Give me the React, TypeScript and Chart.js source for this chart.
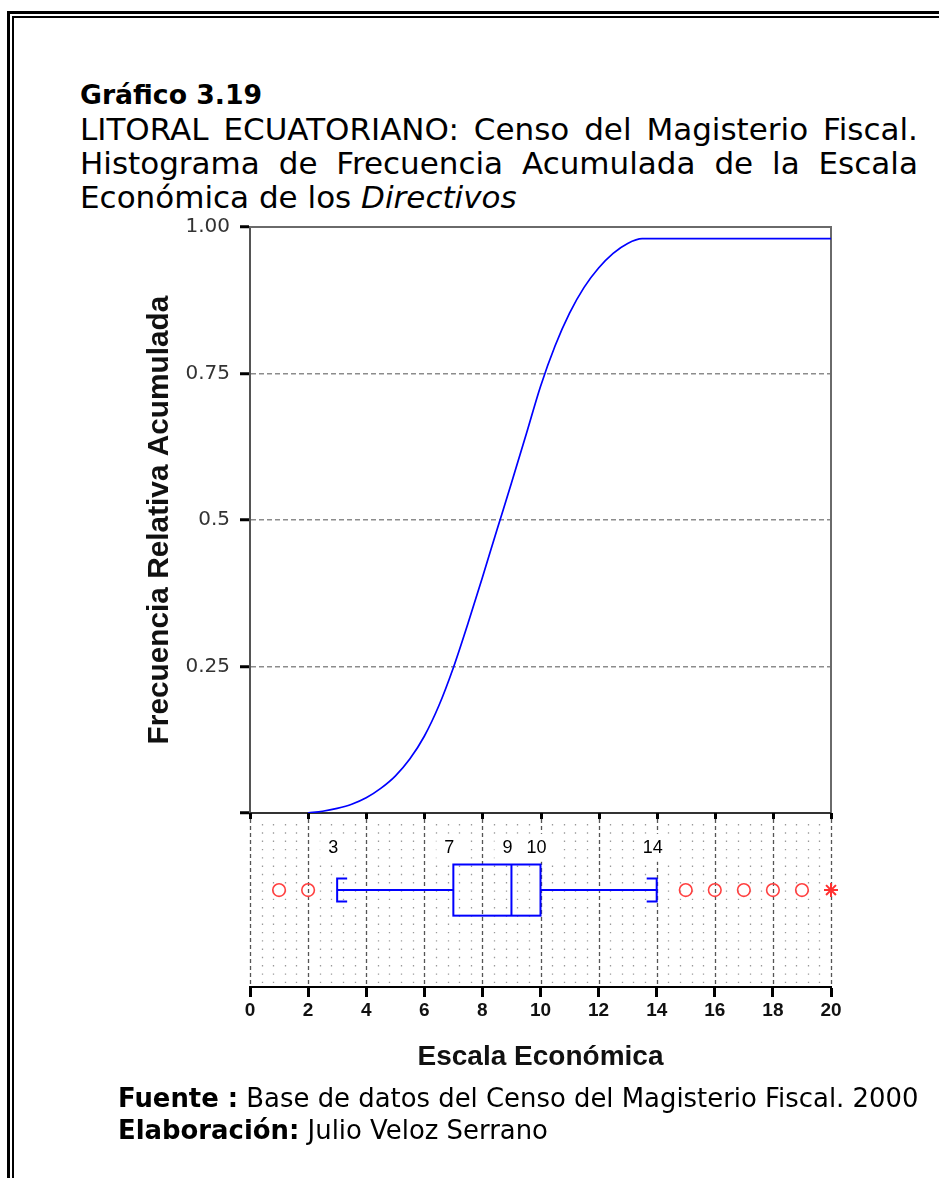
import React, { useEffect, useRef } from 'react';
import { Chart, registerables } from 'chart.js';

Chart.register(...registerables);

// ---------- data ----------
const cdfX = [2.0, 2.5, 3.0, 3.5, 4.0, 4.5, 5.0, 5.5, 6.0, 6.5, 7.0, 7.5, 8.0, 8.5, 9.0, 9.5, 10.0, 10.5, 11.0, 11.5, 12.0, 12.5, 13.0, 13.5, 20.0];
const cdfY = [0.0, 0.003, 0.008, 0.015, 0.026, 0.042, 0.063, 0.092, 0.131, 0.183, 0.248, 0.323, 0.402, 0.483, 0.563, 0.645, 0.728, 0.797, 0.853, 0.897, 0.93, 0.955, 0.972, 0.98, 0.98];

// whisker low, Q1, median, Q3, whisker high
const boxValues = [3, 7, 9, 10, 14];
const boxLabels = ['3', '7', '9', '10', '14'];
const outliers = [1, 2, 15, 16, 17, 18, 19];
const extremes = [20];

const xTicks = [0, 2, 4, 6, 8, 10, 12, 14, 16, 18, 20];
const yTicks = [0, 0.25, 0.5, 0.75, 1];
const yTickLabels = ['', '0.25', '0.5', '0.75', '1.00'];

// ---------- layout constants (box panel, in yb units 0..1) ----------
const BOX_Y = 0.557;
const BOX_HALF = 0.147;
const CAP_HALF = 0.066;
const CAP_STUB = 10;
const LABEL_Y = 0.8;
const MINOR_STEP = 0.4;

const panelPlugin = {
  id: 'panels',
  beforeDatasetsDraw(chart: any) {
    const { ctx, scales } = chart;
    const x = scales.x, y = scales.y, yb = scales.yb;
    const left = x.left, right = x.right;
    const top = y.top, mid = y.bottom, bottom = yb.bottom;
    ctx.save();
    // minor dotted verticals
    ctx.strokeStyle = '#9a9a9a';
    ctx.lineWidth = 1.3;
    ctx.setLineDash([1.4, 6.9]);
    const nMinor = Math.round((x.max - x.min) / MINOR_STEP);
    for (let i = 1; i < nMinor; i++) {
      const v = x.min + i * MINOR_STEP;
      if (Math.abs(v / 2 - Math.round(v / 2)) < 1e-6) continue;
      const px = Math.round(x.getPixelForValue(v)) + 0.5;
      ctx.beginPath();
      ctx.moveTo(px, mid + 11);
      ctx.lineTo(px, bottom - 2);
      ctx.stroke();
    }
    // major dashed verticals
    ctx.strokeStyle = '#555';
    ctx.lineWidth = 1.3;
    ctx.setLineDash([4, 3]);
    for (const v of xTicks) {
      const px = Math.round(x.getPixelForValue(v)) + 0.5;
      ctx.beginPath();
      ctx.moveTo(px, mid + 6);
      ctx.lineTo(px, bottom);
      ctx.stroke();
    }
    ctx.setLineDash([]);
    // top panel frame
    ctx.strokeStyle = '#6a6a6a';
    ctx.lineWidth = 2;
    ctx.beginPath();
    ctx.moveTo(left, top);
    ctx.lineTo(right, top);
    ctx.lineTo(right, mid);
    ctx.stroke();
    ctx.strokeStyle = '#333';
    ctx.beginPath();
    ctx.moveTo(left, mid);
    ctx.lineTo(right, mid);
    ctx.stroke();
    // downward ticks under top panel
    ctx.strokeStyle = '#000';
    ctx.lineWidth = 3;
    for (const v of xTicks) {
      const px = Math.round(x.getPixelForValue(v)) + 0.5;
      ctx.beginPath();
      ctx.moveTo(px, mid);
      ctx.lineTo(px, mid + 6);
      ctx.stroke();
    }
    // labels with white background
    ctx.font = '18px "Liberation Sans", Arial, sans-serif';
    ctx.textAlign = 'center';
    ctx.textBaseline = 'middle';
    const ly = yb.getPixelForValue(LABEL_Y);
    boxValues.forEach((v, i) => {
      const px = x.getPixelForValue(v) - 4;
      const w = ctx.measureText(boxLabels[i]).width + 16;
      ctx.fillStyle = '#fff';
      ctx.fillRect(px - w / 2, ly - 14, w, 28);
      ctx.fillStyle = '#000';
      ctx.fillText(boxLabels[i], px, ly);
    });
    ctx.restore();
  },
  afterDatasetsDraw(chart: any) {
    const { ctx, scales } = chart;
    const x = scales.x, yb = scales.yb;
    const [lo, q1, med, q3, hi] = boxValues.map((v) => x.getPixelForValue(v));
    const cy = yb.getPixelForValue(BOX_Y);
    const bt = yb.getPixelForValue(BOX_Y + BOX_HALF);
    const bb = yb.getPixelForValue(BOX_Y - BOX_HALF);
    const ct = yb.getPixelForValue(BOX_Y + CAP_HALF);
    const cb = yb.getPixelForValue(BOX_Y - CAP_HALF);
    ctx.save();
    ctx.strokeStyle = '#0000ff';
    ctx.lineWidth = 2;
    ctx.strokeRect(q1, bt, q3 - q1, bb - bt);
    ctx.beginPath();
    ctx.moveTo(med, bt);
    ctx.lineTo(med, bb);
    ctx.moveTo(lo, cy);
    ctx.lineTo(q1, cy);
    ctx.moveTo(q3, cy);
    ctx.lineTo(hi, cy);
    // left cap [
    ctx.moveTo(lo + CAP_STUB, ct);
    ctx.lineTo(lo, ct);
    ctx.lineTo(lo, cb);
    ctx.lineTo(lo + CAP_STUB, cb);
    // right cap ]
    ctx.moveTo(hi - CAP_STUB, ct);
    ctx.lineTo(hi, ct);
    ctx.lineTo(hi, cb);
    ctx.lineTo(hi - CAP_STUB, cb);
    ctx.stroke();
    ctx.restore();
  },
};

function ChartCanvas() {
  const ref = useRef<HTMLCanvasElement | null>(null);
  useEffect(() => {
    if (!ref.current) return;
    const chart = new Chart(ref.current, {
      type: 'line',
      data: {
        datasets: [
          {
            label: 'Frecuencia relativa acumulada',
            data: cdfX.map((v, i) => ({ x: v, y: cdfY[i] })),
            borderColor: '#0000ff',
            borderWidth: 1.7,
            pointRadius: 0,
            cubicInterpolationMode: 'monotone',
            fill: false,
            xAxisID: 'x',
            yAxisID: 'y',
          },
          {
            type: 'scatter',
            label: 'Atípicos',
            data: outliers.map((v) => ({ x: v, y: BOX_Y })),
            pointStyle: 'circle',
            pointRadius: 6.3,
            borderColor: '#ff4040',
            backgroundColor: 'rgba(0,0,0,0)',
            borderWidth: 1.6,
            clip: false,
            xAxisID: 'x',
            yAxisID: 'yb',
          },
          {
            type: 'scatter',
            label: 'Extremos',
            data: extremes.map((v) => ({ x: v, y: BOX_Y })),
            pointStyle: 'star',
            pointRadius: 7,
            borderColor: '#ff3030',
            backgroundColor: '#ff3030',
            borderWidth: 2,
            clip: false,
            xAxisID: 'x',
            yAxisID: 'yb',
          },
        ] as any,
      },
      options: {
        animation: false,
        responsive: false,
        layout: { padding: { left: 120, right: 108, top: 227, bottom: 101 } },
        plugins: { legend: { display: false }, tooltip: { enabled: false } },
        scales: {
          x: {
            type: 'linear',
            min: 0,
            max: 20,
            position: 'bottom',
            afterBuildTicks: (s: any) => {
              s.ticks = xTicks.map((v) => ({ value: v }));
            },
            afterFit: (s: any) => {
              s.height = 90;
            },
            ticks: {
              color: '#111',
              font: { family: '"Liberation Sans Narrow", "Liberation Sans", Arial', size: 19, weight: 'bold' },
              padding: 2,
              maxRotation: 0,
            },
            grid: { drawOnChartArea: false, tickLength: 10, tickWidth: 3, tickColor: '#000' },
            border: { display: true, color: '#000', width: 2 },
            title: {
              display: true,
              text: 'Escala Económica',
              color: '#111',
              font: { family: '"Liberation Sans", Arial', size: 28, weight: 'bold' },
              padding: { top: 0, bottom: 3 },
            },
          },
          y: {
            type: 'linear',
            min: 0,
            max: 1,
            position: 'left',
            stack: 'v',
            stackWeight: 586,
            weight: 1,
            afterBuildTicks: (s: any) => {
              s.ticks = yTicks.map((v) => ({ value: v }));
            },
            afterFit: (s: any) => {
              s.width = 130;
            },
            ticks: {
              color: '#333',
              font: { family: '"DejaVu Sans", Verdana', size: 20 },
              padding: 10,
              callback: (_v: any, i: number) => yTickLabels[i],
            },
            grid: {
              color: (c: any) => (c.tick && c.tick.value > 0 && c.tick.value < 1 ? '#8c8c8c' : 'rgba(0,0,0,0)'),
              lineWidth: 1.5,
              tickLength: 10,
              tickWidth: 3,
              tickColor: '#000',
            },
            border: { display: true, color: '#555', width: 2, dash: [5, 3] },
            title: {
              display: true,
              text: 'Frecuencia Relativa Acumulada',
              color: '#111',
              font: { family: '"Liberation Sans", Arial', size: 29.8, weight: 'bold' },
              padding: { top: 22, bottom: 0 },
            },
          },
          yb: {
            type: 'linear',
            min: 0,
            max: 1,
            position: 'left',
            stack: 'v',
            stackWeight: 174,
            weight: 0,
            afterFit: (s: any) => {
              s.width = 130;
            },
            ticks: { display: false },
            grid: { display: false },
            border: { display: false },
          },
        },
      } as any,
      plugins: [panelPlugin],
    });
    return () => chart.destroy();
  }, []);
  return (
    <canvas
      ref={ref}
      width={939}
      height={1178}
      style={{ position: 'absolute', left: 0, top: 0, width: 939, height: 1178 }}
    />
  );
}

export default function App() {
  const textFont = '"DejaVu Sans", Verdana, sans-serif';
  const spread: React.CSSProperties = { display: 'flex', justifyContent: 'space-between', whiteSpace: 'nowrap' };
  return (
    <div
      style={{
        position: 'absolute',
        left: 0,
        top: 0,
        width: 939,
        height: 1178,
        overflow: 'hidden',
        background: '#fff',
        fontFamily: textFont,
        color: '#000',
      }}
    >
      <div style={{ position: 'absolute', left: 7, top: 11, width: 1000, height: 1300, borderTop: '3px solid #000', borderLeft: '3px solid #000' }} />
      <div style={{ position: 'absolute', left: 12, top: 16, width: 1000, height: 1300, borderTop: '2px solid #000', borderLeft: '2px solid #000' }} />
      <div style={{ position: 'absolute', left: 80, top: 78, width: 838, fontSize: 31, lineHeight: '34px' }}>
        <div style={{ fontWeight: 'bold', fontSize: 26.7 }}>Gráfico 3.19</div>
        <div style={spread}>
          <span>LITORAL</span><span>ECUATORIANO:</span><span>Censo</span><span>del</span><span>Magisterio</span><span>Fiscal.</span>
        </div>
        <div style={spread}>
          <span>Histograma</span><span>de</span><span>Frecuencia</span><span>Acumulada</span><span>de</span><span>la</span><span>Escala</span>
        </div>
        <div style={{ whiteSpace: 'nowrap' }}>
          Económica de los <i>Directivos</i>
        </div>
      </div>
      <ChartCanvas />
      <div style={{ position: 'absolute', left: 118, top: 1082, fontSize: 25.9, lineHeight: '32px', whiteSpace: 'nowrap' }}>
        <div>
          <b>Fuente :</b> Base de datos del Censo del Magisterio Fiscal. 2000
        </div>
        <div>
          <b>Elaboración:</b> Julio Veloz Serrano
        </div>
      </div>
    </div>
  );
}
